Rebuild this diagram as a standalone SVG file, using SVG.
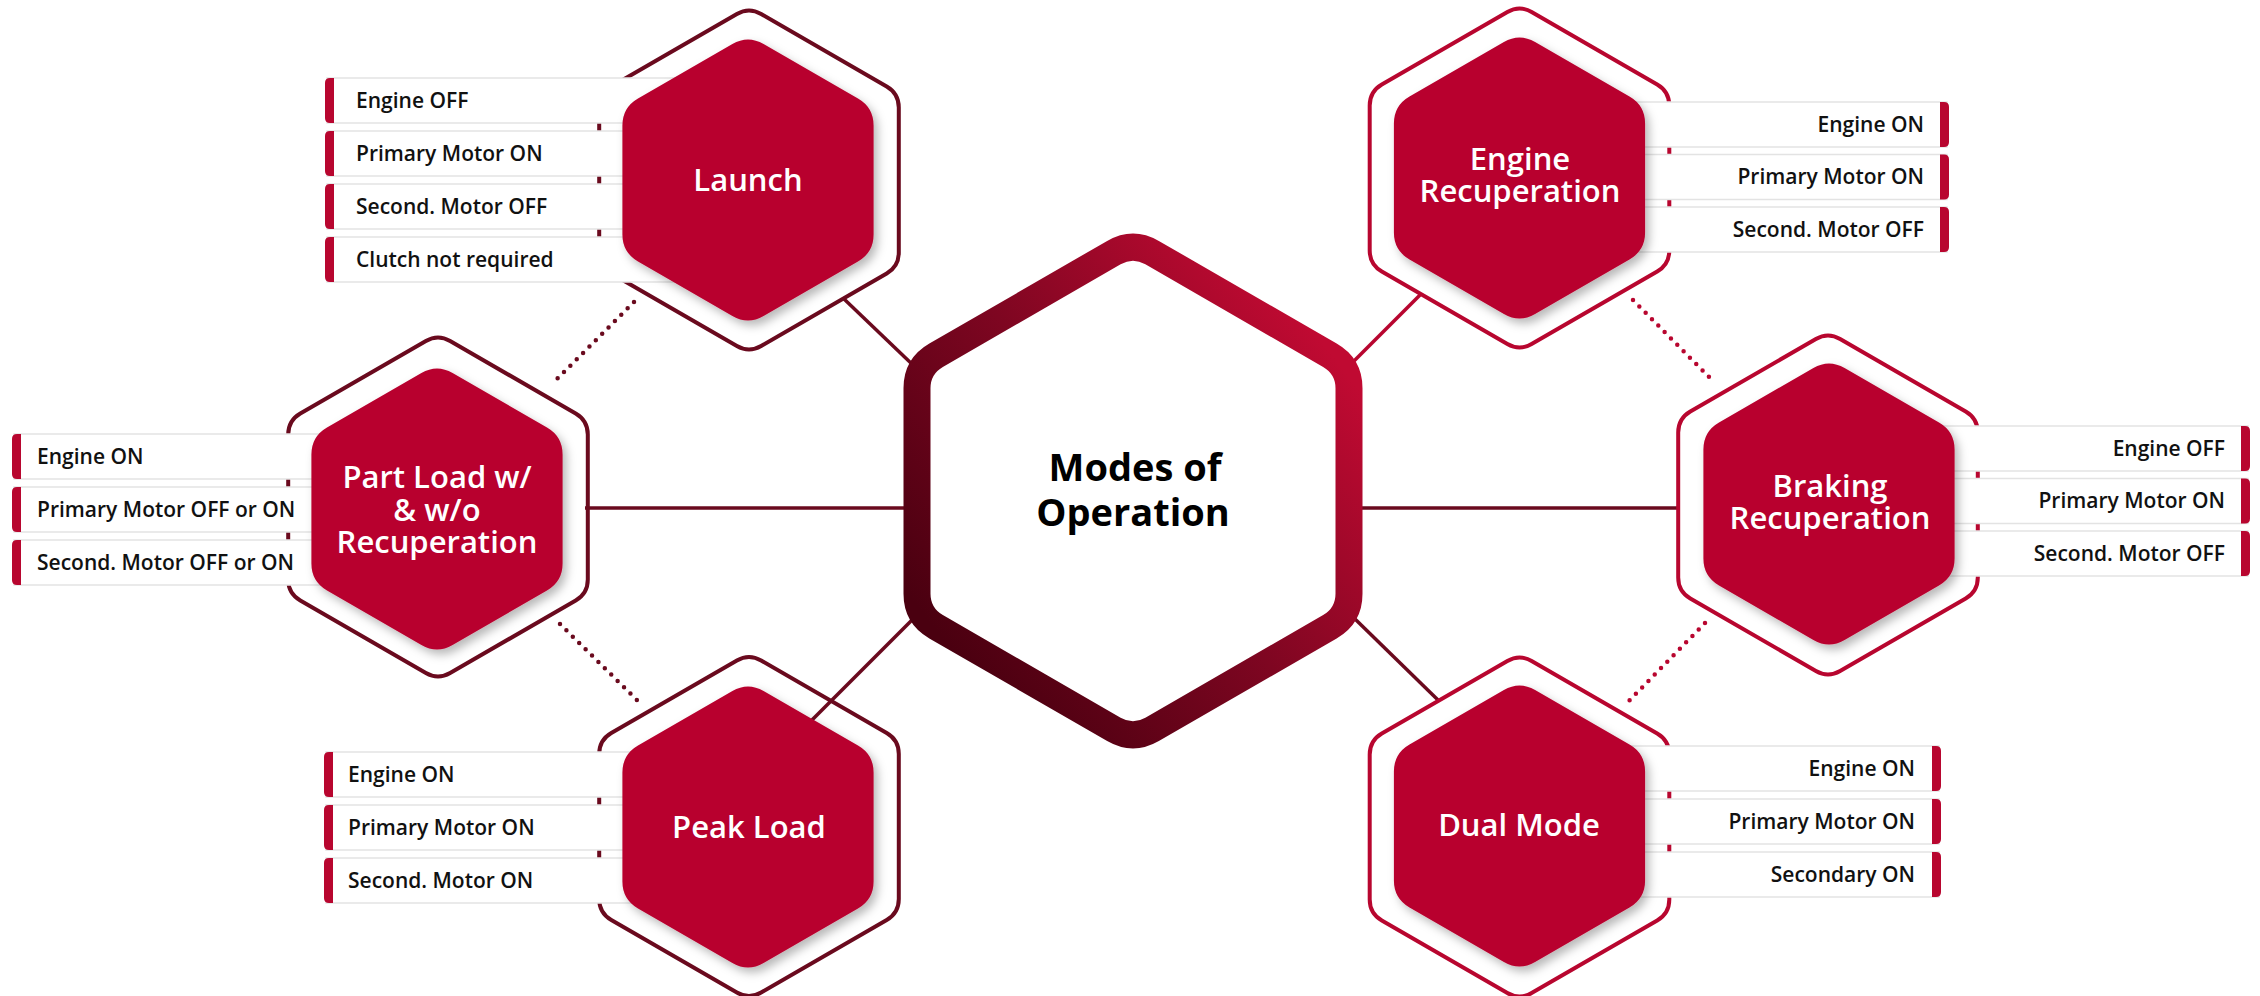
<svg xmlns="http://www.w3.org/2000/svg" xmlns:xlink="http://www.w3.org/1999/xlink" width="2260" height="996" viewBox="0 0 2260 996">
<style>
.bg{fill:#ffffff}
.conD{stroke:#6a0a1e;stroke-width:3.5;fill:none}
.conR{stroke:#b8062f;stroke-width:3.5;fill:none}
.dotD{stroke:#6a0a1e;stroke-width:4.5;stroke-dasharray:0 9;stroke-linecap:round;fill:none}
.dotR{stroke:#b8062f;stroke-width:4.5;stroke-dasharray:0 9;stroke-linecap:round;fill:none}
.outerD{fill:none;stroke:#6a0a1e;stroke-width:4}
.outerR{fill:none;stroke:#b8062f;stroke-width:4}
.inner{fill:#b8062f;filter:url(#sh)}
.title{font-family:"Open Sans","Liberation Sans",sans-serif;font-weight:600;font-size:31px;fill:#ffffff;text-anchor:middle}
.lbl{font-family:"Open Sans","Liberation Sans",sans-serif;font-weight:600;font-size:21px;fill:#111111}
.end{text-anchor:end}
.main{font-family:"Open Sans","Liberation Sans",sans-serif;font-weight:700;font-size:38px;fill:#000000;text-anchor:middle}
</style>
<defs>
<filter id="sh" x="-20%" y="-20%" width="140%" height="140%">
<feDropShadow dx="4" dy="5" stdDeviation="5" flood-color="#000000" flood-opacity="0.28"/>
</filter>
<linearGradient id="ring" x1="0.1" y1="0.85" x2="0.9" y2="0.15">
<stop offset="0" stop-color="#4a0010"/>
<stop offset="0.5" stop-color="#7e0621"/>
<stop offset="1" stop-color="#c00a32"/>
</linearGradient>
<path id="hexOuter" d="M 12.1,-166 L 137.7,-93.5 Q 149.8,-86.5 149.8,-72.5 L 149.8,72.5 Q 149.8,86.5 137.7,93.5 L 12.1,166 Q 0,173 -12.1,166 L -137.7,93.5 Q -149.8,86.5 -149.8,72.5 L -149.8,-72.5 Q -149.8,-86.5 -137.7,-93.5 L -12.1,-166 Q 0,-173 12.1,-166 Z"/>
<path id="hexInner" d="M 15.6,-136 L 110,-81.5 Q 125.6,-72.5 125.6,-54.5 L 125.6,54.5 Q 125.6,72.5 110,81.5 L 15.6,136 Q 0,145 -15.6,136 L -110,81.5 Q -125.6,72.5 -125.6,54.5 L -125.6,-54.5 Q -125.6,-72.5 -110,-81.5 L -15.6,-136 Q 0,-145 15.6,-136 Z"/>
<g id="boxL">
<rect x="2" y="0" width="400" height="45" fill="#ffffff" stroke="#e3e3e3" stroke-width="1.5"/>
<path d="M9,0 H5 Q0,0 0,5 V40 Q0,45 5,45 H9 Z" fill="#b8062f"/>
</g>
<g id="boxR">
<rect x="-402" y="0" width="400" height="45" fill="#ffffff" stroke="#e3e3e3" stroke-width="1.5"/>
<path d="M-9,0 H-5 Q0,0 0,5 V40 Q0,45 -5,45 H-9 Z" fill="#b8062f"/>
</g>
</defs>
<rect class="bg" x="0" y="0" width="2260" height="996"/>

<g id="connectors">
<line class="conD" x1="843" y1="298" x2="914" y2="366"/>
<line class="conR" x1="1420" y1="295" x2="1352" y2="363"/>
<line class="conD" x1="585" y1="508" x2="910" y2="508"/>
<line class="conD" x1="1357" y1="508" x2="1678" y2="508"/>
<line class="conD" x1="812" y1="720" x2="914" y2="618"/>
<line class="conD" x1="1438" y1="700" x2="1354" y2="618"/>
<line class="dotD" x1="634" y1="302" x2="553" y2="383"/>
<line class="dotD" x1="560" y1="624" x2="641" y2="704"/>
<line class="dotR" x1="1633" y1="300" x2="1713" y2="381"/>
<line class="dotR" x1="1705" y1="623" x2="1626" y2="704"/>
</g>

<g id="center">
<path transform="translate(1133,491)" fill="#ffffff" stroke="url(#ring)" stroke-width="27" stroke-linejoin="round" d="M 19.1,-238.4 L 196.9,-135.7 Q 216,-124.7 216,-102.7 L 216,102.7 Q 216,124.7 196.9,135.7 L 19.1,238.4 Q 0,249.4 -19.1,238.4 L -196.9,135.7 Q -216,124.7 -216,102.7 L -216,-102.7 Q -216,-124.7 -196.9,-135.7 L -19.1,-238.4 Q 0,-249.4 19.1,-238.4 Z"/>
<text class="main"><tspan x="1135" y="481">Modes of</tspan><tspan x="1133" y="526">Operation</tspan></text>
</g>

<g id="launch">
<use href="#hexOuter" class="outerD" transform="translate(749,180)"/>
<use href="#boxL" x="325" y="78"/>
<use href="#boxL" x="325" y="131"/>
<use href="#boxL" x="325" y="184"/>
<use href="#boxL" x="325" y="237"/>
<use href="#hexInner" class="inner" transform="translate(748,180)"/>
<text class="title" x="748" y="191">Launch</text>
<text class="lbl" x="356" y="107.5">Engine OFF</text>
<text class="lbl" x="356" y="160.5">Primary Motor ON</text>
<text class="lbl" x="356" y="213.5">Second. Motor OFF</text>
<text class="lbl" x="356" y="266.5">Clutch not required</text>
</g>

<g id="partload">
<use href="#hexOuter" class="outerD" transform="translate(438,507)"/>
<use href="#boxL" x="12" y="434"/>
<use href="#boxL" x="12" y="487"/>
<use href="#boxL" x="12" y="540"/>
<use href="#hexInner" class="inner" transform="translate(437,509)"/>
<text class="title"><tspan x="437" y="488">Part Load w/</tspan><tspan x="437" y="521">&amp; w/o</tspan><tspan x="437" y="553">Recuperation</tspan></text>
<text class="lbl" x="37" y="463.5">Engine ON</text>
<text class="lbl" x="37" y="516.5">Primary Motor OFF or ON</text>
<text class="lbl" x="37" y="569.5">Second. Motor OFF or ON</text>
</g>

<g id="peakload">
<use href="#hexOuter" class="outerD" transform="translate(749,826.5)"/>
<use href="#boxL" x="324" y="752"/>
<use href="#boxL" x="324" y="805"/>
<use href="#boxL" x="324" y="858"/>
<use href="#hexInner" class="inner" transform="translate(748,827)"/>
<text class="title" x="749" y="838">Peak Load</text>
<text class="lbl" x="348" y="781.5">Engine ON</text>
<text class="lbl" x="348" y="834.5">Primary Motor ON</text>
<text class="lbl" x="348" y="887.5">Second. Motor ON</text>
</g>

<g id="enginerecup">
<use href="#hexOuter" class="outerR" transform="translate(1519.5,178)"/>
<use href="#boxR" x="1949" y="102"/>
<use href="#boxR" x="1949" y="154.5"/>
<use href="#boxR" x="1949" y="207"/>
<use href="#hexInner" class="inner" transform="translate(1519.5,178)"/>
<text class="title"><tspan x="1520" y="170">Engine</tspan><tspan x="1520" y="202">Recuperation</tspan></text>
<text class="lbl end" x="1924" y="131.5">Engine ON</text>
<text class="lbl end" x="1924" y="184">Primary Motor ON</text>
<text class="lbl end" x="1924" y="236.5">Second. Motor OFF</text>
</g>

<g id="braking">
<use href="#hexOuter" class="outerR" transform="translate(1828,505)"/>
<use href="#boxR" x="2250" y="426"/>
<use href="#boxR" x="2250" y="478.5"/>
<use href="#boxR" x="2250" y="531"/>
<use href="#hexInner" class="inner" transform="translate(1829,504)"/>
<text class="title"><tspan x="1830" y="497">Braking</tspan><tspan x="1830" y="529">Recuperation</tspan></text>
<text class="lbl end" x="2225" y="455.5">Engine OFF</text>
<text class="lbl end" x="2225" y="508">Primary Motor ON</text>
<text class="lbl end" x="2225" y="560.5">Second. Motor OFF</text>
</g>

<g id="dualmode">
<use href="#hexOuter" class="outerR" transform="translate(1519.5,827)"/>
<use href="#boxR" x="1941" y="746"/>
<use href="#boxR" x="1941" y="799"/>
<use href="#boxR" x="1941" y="852"/>
<use href="#hexInner" class="inner" transform="translate(1519.5,826)"/>
<text class="title" x="1519" y="836">Dual Mode</text>
<text class="lbl end" x="1915" y="775.5">Engine ON</text>
<text class="lbl end" x="1915" y="828.5">Primary Motor ON</text>
<text class="lbl end" x="1915" y="881.5">Secondary ON</text>
</g>
</svg>
